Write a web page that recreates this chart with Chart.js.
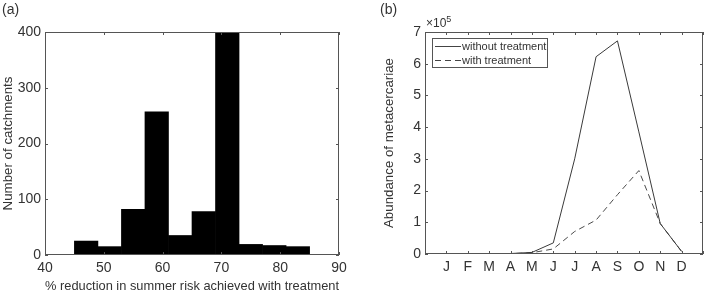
<!DOCTYPE html>
<html lang="en">
<head>
<meta charset="UTF-8">
<title>Summer risk reduction and metacercariae abundance</title>
<script src="https://cdn.jsdelivr.net/npm/chart.js@4/dist/chart.umd.min.js"></script>
<style>
    body { margin: 0; background: #fff; font-family: "Liberation Sans", Arial, sans-serif; color: #333; }
    .wrap { position: relative; width: 708px; height: 294px; overflow: hidden; }
    canvas { position: absolute; top: 0; }
    .panel { position: absolute; font-size: 14px; }
    .mult { position: absolute; left: 426px; top: 14px; font-size: 12px; }
    .mult sup { font-size: 9px; }
    .legend { position: absolute; left: 432px; top: 38px; width: 114px; height: 28px; border: 1px solid #555; background: #fff; font-size: 11px; white-space: nowrap; }
    .legend div { height: 13px; line-height: 13px; display: flex; align-items: center; margin-top: 1px; }
    .legend span.ln { display: inline-block; width: 26px; margin-left: 2px; margin-right: 1px; height: 0; border-top: 1px solid #444; }
    .legend span.dash { border-top: none; height: 1px; background: repeating-linear-gradient(to right, #444 0 6px, transparent 6px 10px); }
</style>
</head>
<body>
<div class="wrap">
    <canvas id="histChart" width="354" height="294" style="left:0"></canvas>
    <canvas id="lineChart" width="328" height="294" style="left:380px"></canvas>
    <div class="panel" style="left:2px;top:1px">(a)</div>
    <div class="panel" style="left:380px;top:1px">(b)</div>
    <div class="mult">&times;10<sup>5</sup></div>
    <div class="legend">
        <div><span class="ln"></span>without treatment</div>
        <div><span class="ln dash"></span>with treatment</div>
    </div>
</div>
<script>
    // histogram (a): bin centres, bins are 4 wide
    const binCentres = [47, 51, 55, 59, 63, 67, 71, 75, 79, 83];
    const catchmentCounts = [25, 15, 82, 257, 35, 78, 400, 19, 17, 15];

    // line chart (b)
    const months = ["J", "F", "M", "A", "M", "J", "J", "A", "S", "O", "N", "D"];
    const withoutTreatment = [1000, 0, 0, 1500, 5000, 35000, 300000, 622000, 672000, 385000, 96000, 8000];
    const withTreatment = [0, 0, 0, 1000, 4000, 16000, 71000, 107000, 187000, 263000, 96000, 8000];

    const axisColor = "#555";
    const textColor = "#333";

    // MATLAB style box with inward ticks on all four sides
    const boxTicks = {
        id: "boxTicks",
        afterDraw(chart) {
            const ctx = chart.ctx;
            const a = chart.chartArea;
            const len = 3;
            ctx.save();
            ctx.strokeStyle = axisColor;
            ctx.lineWidth = 1;
            ctx.strokeRect(Math.round(a.left) + 0.5, Math.round(a.top) + 0.5,
                Math.round(a.right - a.left) - 1, Math.round(a.bottom - a.top) - 1);
            ctx.beginPath();
            const xs = chart.scales.x, ys = chart.scales.y;
            xs.ticks.forEach(t => {
                const px = Math.round(xs.getPixelForValue(t.value)) + 0.5;
                ctx.moveTo(px, a.bottom); ctx.lineTo(px, a.bottom - len);
                ctx.moveTo(px, a.top); ctx.lineTo(px, a.top + len);
            });
            ys.ticks.forEach(t => {
                const py = Math.round(ys.getPixelForValue(t.value)) + 0.5;
                ctx.moveTo(a.left, py); ctx.lineTo(a.left + len, py);
                ctx.moveTo(a.right, py); ctx.lineTo(a.right - len, py);
            });
            ctx.stroke();
            ctx.restore();
        }
    };

    Chart.defaults.font.family = '"Liberation Sans", Arial, sans-serif';
    Chart.defaults.color = textColor;

    new Chart(document.getElementById("histChart"), {
        type: "bar",
        data: {
            datasets: [{
                data: binCentres.map((c, i) => ({ x: c, y: catchmentCounts[i] })),
                backgroundColor: "#000",
                borderWidth: 0,
                barPercentage: 1,
                categoryPercentage: 1
            }]
        },
        options: {
            responsive: false,
            animation: false,
            devicePixelRatio: 1,
            layout: { padding: { top: 32, right: 15, left: 0, bottom: 0 } },
            plugins: { legend: { display: false }, tooltip: { enabled: false } },
            scales: {
                x: {
                    type: "linear", min: 40, max: 90, offset: false,
                    grid: { display: false, drawTicks: false, offset: false },
                    border: { display: false },
                    ticks: { stepSize: 10, padding: 5, font: { size: 14 } },
                    title: { display: true, text: "% reduction in summer risk achieved with treatment", font: { size: 13.3 }, padding: 0 },
                    afterFit(s) { s.height = 39; }
                },
                y: {
                    min: 0, max: 400,
                    grid: { display: false, drawTicks: false },
                    border: { display: false },
                    ticks: { stepSize: 100, padding: 4, font: { size: 14 } },
                    title: { display: true, text: "Number of catchments", font: { size: 13.3 }, padding: 0 },
                    afterFit(s) { s.width = 45; }
                }
            }
        },
        plugins: [boxTicks]
    });

    new Chart(document.getElementById("lineChart"), {
        type: "line",
        data: {
            datasets: [{
                label: "without treatment",
                data: withoutTreatment.map((v, i) => ({ x: i + 1, y: v })),
                borderColor: "#3a3a3a",
                borderWidth: 1,
                pointRadius: 0,
                tension: 0
            }, {
                label: "with treatment",
                data: withTreatment.map((v, i) => ({ x: i + 1, y: v })),
                borderColor: "#4a4a4a",
                borderWidth: 1,
                borderDash: [6, 4],
                pointRadius: 0,
                tension: 0
            }]
        },
        options: {
            responsive: false,
            animation: false,
            devicePixelRatio: 1,
            layout: { padding: { top: 32, right: 2, left: 0, bottom: 0 } },
            plugins: { legend: { display: false }, tooltip: { enabled: false } },
            scales: {
                x: {
                    type: "linear", min: 0, max: 13,
                    grid: { display: false, drawTicks: false },
                    border: { display: false },
                    ticks: {
                        stepSize: 1, padding: 5, font: { size: 14 },
                        autoSkip: false, maxRotation: 0,
                        callback: v => months[v - 1] || ""
                    },
                    afterFit(s) { s.height = 40; }
                },
                y: {
                    min: 0, max: 700000,
                    grid: { display: false, drawTicks: false },
                    border: { display: false },
                    ticks: { stepSize: 100000, padding: 4, font: { size: 14 }, callback: v => v / 100000 },
                    title: { display: true, text: "Abundance of metacercariae", font: { size: 13.3 }, padding: 1 },
                    afterFit(s) { s.width = 45; }
                }
            }
        },
        plugins: [boxTicks]
    });
</script>
</body>
</html>
